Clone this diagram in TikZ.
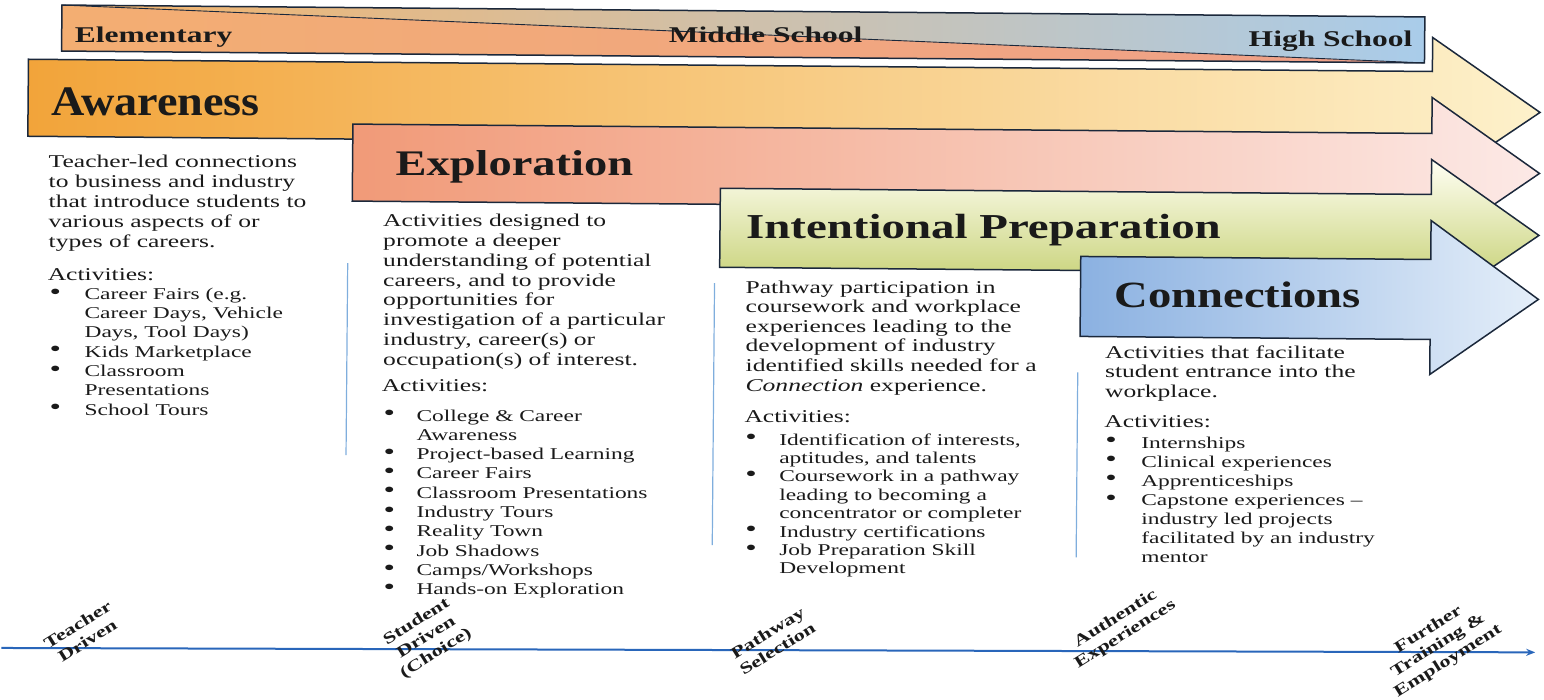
\documentclass[tikz,border=0pt]{standalone}
\usepackage{fontspec}
\setmainfont{Liberation Serif}
\newfontfamily\bodyf{Liberation Serif}[FakeStretch=1.42]
\newfontfamily\banf{Liberation Serif}[FakeStretch=1.4]
\newfontfamily\hAw{Liberation Serif}[FakeStretch=1.1]
\newfontfamily\hEx{Liberation Serif}[FakeStretch=1.29]
\newfontfamily\hIP{Liberation Serif}[FakeStretch=1.34]
\newfontfamily\hCo{Liberation Serif}[FakeStretch=1.26]
\newfontfamily\axf{Liberation Serif}[FakeStretch=1.4]
\usetikzlibrary{arrows.meta}
\definecolor{lineC}{HTML}{1B283B}
\definecolor{sepC}{HTML}{7FAEDD}
\definecolor{axC}{HTML}{2966BA}
\definecolor{txtC}{HTML}{1A1A1A}
\definecolor{banOr}{HTML}{F5B46A}
\definecolor{banYe}{HTML}{F7DC8E}
\definecolor{banBl}{HTML}{A9CCEA}
\definecolor{banSa}{HTML}{F3AE72}
\definecolor{banPk}{HTML}{EFA08A}
\definecolor{awL}{HTML}{F2A43A}
\definecolor{awM}{HTML}{F7C96A}
\definecolor{awR}{HTML}{FDF1CB}
\definecolor{exL}{HTML}{F19A78}
\definecolor{exM}{HTML}{F5BDAA}
\definecolor{exR}{HTML}{FCE9E6}
\definecolor{ipT}{HTML}{FFFFF4}
\definecolor{ipB}{HTML}{BCC85E}
\definecolor{coL}{HTML}{8BB1E1}
\definecolor{coM}{HTML}{A9C6EC}
\definecolor{coR}{HTML}{E4EEF9}
\newcommand\bul{\raisebox{0.3pt}{\fontsize{23}{19}\selectfont\textbullet}}
\tikzset{
  outline/.style={draw=lineC, line width=1.5pt, line join=miter},
  banlbl/.style={inner sep=0pt, text=txtC, font=\banf\bfseries\fontsize{22.5}{24}\selectfont},
  heading/.style={anchor=base west, inner sep=0pt, text=txtC},
  desc/.style={anchor=base west, inner sep=0pt, text=txtC, font=\bodyf\fontsize{18}{20}\selectfont},
  blist/.style={anchor=base west, inner sep=0pt, text=txtC, font=\bodyf\fontsize{16.5}{19.3}\selectfont},
  sepline/.style={draw=sepC, line width=1.2pt},
  axisline/.style={draw=axC, line width=2pt, -{Stealth[length=9pt,width=7pt]}},
  axlbl/.style={inner sep=0pt, align=center, text=txtC, rotate=32, font=\axf\bfseries\fontsize{16}{18.5}\selectfont},
}
\begin{document}
\begin{tikzpicture}[x=1pt,y=-1pt]
\useasboundingbox (0,0) rectangle (1544,700);
\begin{scope}[rotate=-0.5]
% ---- school level banner
\path[left color=banOr, middle color=banYe, right color=banBl] (62,4.5) -- (1425,4.5) -- (1425,50.5) -- cycle;
\path[left color=banSa, right color=banPk] (62,4.5) -- (1425,50.5) -- (62,50.5) -- cycle;
\draw[draw=lineC, line width=0.9pt] (62,4.5) -- (1425,50.5);
\draw[outline] (62,4.5) rectangle (1425,50.5);
\node[banlbl, anchor=base west] (elem) at (75,41.5) {Elementary};
\node[banlbl, anchor=base] (midd) at (766,36) {Middle School};
\node[banlbl, anchor=base east] (high) at (1413,34) {High School};
% ---- Awareness arrow
\draw[outline, left color=awL, middle color=awM, right color=awR]
  (29,59) -- (1433,59) -- (1433,25) -- (1541,99) -- (1433,173) -- (1433,136) -- (29,136) -- cycle;
% ---- Exploration arrow
\draw[outline, left color=exL, middle color=exM, right color=exR]
  (354,121) -- (1433,121) -- (1433,85) -- (1541,160) -- (1433,235) -- (1433,198) -- (354,198) -- cycle;
% ---- Intentional Preparation arrow
\draw[outline, top color=ipT, bottom color=ipB]
  (722,182) -- (1433,182) -- (1433,147) -- (1541,222) -- (1433,297) -- (1433,261) -- (722,261) -- cycle;
% ---- Connections arrow
\draw[outline, left color=coL, middle color=coM, right color=coR]
  (1083,247) -- (1433,247) -- (1433,208) -- (1541,286) -- (1433,362) -- (1433,327) -- (1083,327) -- cycle;
% ---- headings
\node[heading, font=\hAw\bfseries\fontsize{42}{44}\selectfont] (hAware) at (52,114.6) {Awareness};
\node[heading, font=\hEx\bfseries\fontsize{36}{38}\selectfont] (hExpl) at (397,172.3) {Exploration};
\node[heading, font=\hIP\bfseries\fontsize{35}{37}\selectfont] (hPrep) at (748,232.4) {Intentional Preparation};
\node[heading, font=\hCo\bfseries\fontsize{37}{39}\selectfont] (hConn) at (1117,297.5) {Connections};
% ---- separators
\draw[sepline] (350,260) -- (350,452);
\draw[sepline] (717,277) -- (717,539);
\draw[sepline] (1081,363) -- (1081,548);
% ---- Awareness column
\node[desc] (awDesc) at (50,166.9) {\begin{tabular}[t]{@{}l@{}}Teacher-led connections\\to business and industry\\that introduce students to\\various aspects of or\\types of careers.\end{tabular}};
\node[desc] (awAct) at (50,279.6) {Activities:};
\node[blist] (awList) at (52,298.9) {\begin{tabular}[t]{@{}p{35pt}@{}l@{}}\bul&Career Fairs (e.g.\\&Career Days, Vehicle\\&Days, Tool Days)\\\bul&Kids Marketplace\\\bul&Classroom\\&Presentations\\\bul&School Tours\end{tabular}};
% ---- Exploration column
\node[desc, font=\bodyf\fontsize{18}{19.8}\selectfont] (exDesc) at (385,223.4) {\begin{tabular}[t]{@{}l@{}}Activities designed to\\promote a deeper\\understanding of potential\\careers, and to provide\\opportunities for\\investigation of a particular\\industry, career(s) or\\occupation(s) of interest.\end{tabular}};
\node[desc] (exAct) at (385,387.7) {Activities:};
\node[blist] (exList) at (387,417.7) {\begin{tabular}[t]{@{}p{33pt}@{}l@{}}\bul&College \& Career\\&Awareness\\\bul&Project-based Learning\\\bul&Career Fairs\\\bul&Classroom Presentations\\\bul&Industry Tours\\\bul&Reality Town\\\bul&Job Shadows\\\bul&Camps/Workshops\\\bul&Hands-on Exploration\end{tabular}};
% ---- Intentional Preparation column
\node[desc, font=\bodyf\fontsize{18}{19.6}\selectfont] (ipDesc) at (748,286.5) {\begin{tabular}[t]{@{}l@{}}Pathway participation in\\coursework and workplace\\experiences leading to the\\development of industry\\identified skills needed for a\\\textit{Connection} experience.\end{tabular}};
\node[desc] (ipAct) at (748,416.5) {Activities:};
\node[blist, font=\bodyf\fontsize{16.5}{18.4}\selectfont] (ipList) at (749,438.5) {\begin{tabular}[t]{@{}p{34pt}@{}l@{}}\bul&Identification of interests,\\&aptitudes, and talents\\\bul&Coursework in a pathway\\&leading to becoming a\\&concentrator or completer\\\bul&Industry certifications\\\bul&Job Preparation Skill\\&Development\end{tabular}};
% ---- Connections column
\node[desc, font=\bodyf\fontsize{18}{19.5}\selectfont] (coDesc) at (1108,348.4) {\begin{tabular}[t]{@{}l@{}}Activities that facilitate\\student entrance into the\\workplace.\end{tabular}};
\node[desc] (coAct) at (1108,417.4) {Activities:};
\node[blist, font=\bodyf\fontsize{16.5}{19.1}\selectfont] (coList) at (1109,438.4) {\begin{tabular}[t]{@{}p{36pt}@{}l@{}}\bul&Internships\\\bul&Clinical experiences\\\bul&Apprenticeships\\\bul&Capstone experiences \textendash\\&industry led projects\\&facilitated by an industry\\&mentor\end{tabular}};
% ---- bottom axis
\coordinate (axL) at (7,648);
\coordinate (axR) at (1541,639);
\draw[axisline] (axL) -- (axR);
\node[axlbl] (tDrv) at (88,632) {Teacher\\Driven};
\node[axlbl] (sDrv) at (432,634) {Student\\Driven\\(Choice)};
\node[axlbl] (pSel) at (778,634) {Pathway\\Selection};
\node[axlbl] (aExp) at (1126,617) {Authentic\\Experiences};
\node[axlbl] (fTrn) at (1444,633) {Further\\Training \&\\Employment};
\end{scope}
\end{tikzpicture}
\end{document}
